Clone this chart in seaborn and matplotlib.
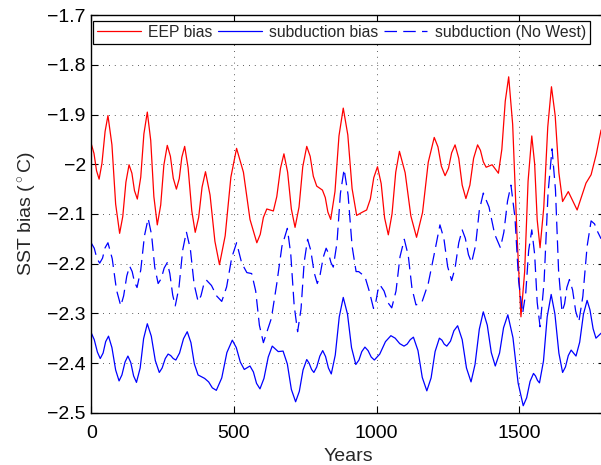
import matplotlib
matplotlib.use("Agg")
import matplotlib.pyplot as plt
import pandas as pd
import seaborn as sns

# ---------------- data ----------------
years_eep = [0, 9, 18, 27, 37, 48, 58, 72, 85, 99,
             110, 121, 132, 142, 151, 161, 173, 184, 196, 208,
             219, 231, 243, 254, 266, 277, 287, 298, 308, 317,
             327, 339, 352, 364, 376, 388, 400, 416, 433, 449,
             469, 489, 509, 533, 556, 580, 592, 603, 615, 638,
             650, 663, 675, 688, 701, 714, 728, 741, 755, 767,
             778, 790, 810, 820, 829, 839, 854, 868, 883, 899,
             914, 930, 948, 965, 978, 990, 1003, 1016, 1028, 1041,
             1054, 1067, 1080, 1100, 1120, 1140, 1161, 1181, 1202, 1215,
             1227, 1240, 1252, 1263, 1275, 1288, 1300, 1313, 1327, 1340,
             1354, 1364, 1374, 1384, 1405, 1427, 1439, 1451, 1463, 1477,
             1492, 1506, 1519, 1531, 1544, 1554, 1563, 1573, 1586, 1600,
             1613, 1626, 1639, 1652, 1672, 1703, 1734, 1752, 1770, 1787]
eep_bias = [-1.960, -1.978, -2.013, -2.030, -1.998, -1.934, -1.902, -1.961, -2.080, -2.139,
            -2.105, -2.036, -2.001, -2.018, -2.053, -2.070, -2.026, -1.939, -1.895, -1.952,
            -2.065, -2.122, -2.082, -2.002, -1.962, -1.984, -2.028, -2.050, -2.029, -1.986,
            -1.964, -2.007, -2.094, -2.137, -2.107, -2.046, -2.015, -2.062, -2.155, -2.202,
            -2.144, -2.026, -1.968, -2.016, -2.111, -2.158, -2.141, -2.107, -2.090, -2.094,
            -2.065, -2.008, -1.979, -2.016, -2.090, -2.127, -2.086, -2.005, -1.964, -1.984,
            -2.024, -2.044, -2.052, -2.067, -2.096, -2.111, -2.055, -1.943, -1.887, -1.941,
            -2.049, -2.103, -2.097, -2.092, -2.070, -2.027, -2.005, -2.039, -2.108, -2.142,
            -2.100, -2.016, -1.974, -2.017, -2.104, -2.147, -2.097, -1.996, -1.946, -1.965,
            -2.004, -2.023, -2.008, -1.977, -1.961, -1.988, -2.042, -2.069, -2.042, -1.988,
            -1.961, -1.972, -1.995, -2.006, -2.001, -2.018, -1.970, -1.873, -1.824, -1.920,
            -2.140, -2.307, -2.216, -2.034, -1.943, -1.999, -2.112, -2.168, -2.087, -1.925,
            -1.844, -1.902, -2.017, -2.075, -2.055, -2.092, -2.038, -2.021, -1.980, -1.931]

years_sub = [0, 10, 21, 31, 41, 50, 60, 72, 85, 97,
             107, 118, 128, 138, 148, 158, 171, 183, 196, 210,
             224, 238, 248, 259, 269, 278, 287, 296, 309, 323,
             336, 349, 361, 374, 397, 411, 424, 438, 457, 475,
             494, 508, 522, 536, 556, 568, 579, 591, 605, 620,
             634, 655, 672, 687, 701, 716, 729, 742, 755, 763,
             772, 780, 790, 801, 811, 821, 831, 841, 855, 869,
             883, 898, 912, 927, 938, 948, 959, 970, 981, 992,
             1011, 1031, 1050, 1065, 1081, 1096, 1107, 1118, 1129, 1145,
             1160, 1176, 1191, 1205, 1220, 1229, 1237, 1246, 1259, 1271,
             1284, 1300, 1315, 1331, 1345, 1360, 1374, 1388, 1402, 1416,
             1431, 1445, 1460, 1478, 1496, 1514, 1526, 1538, 1550, 1557,
             1564, 1571, 1585, 1598, 1612, 1625, 1639, 1652, 1662, 1672,
             1682, 1699, 1712, 1725, 1738, 1748, 1759, 1769, 1787]
subduction_bias = [-2.340, -2.353, -2.378, -2.391, -2.380, -2.357, -2.346, -2.369, -2.414, -2.436,
                   -2.424, -2.398, -2.386, -2.399, -2.426, -2.439, -2.410, -2.351, -2.321, -2.346,
                   -2.395, -2.419, -2.410, -2.391, -2.382, -2.385, -2.391, -2.394, -2.380, -2.351,
                   -2.337, -2.359, -2.402, -2.424, -2.431, -2.438, -2.450, -2.455, -2.430, -2.379,
                   -2.354, -2.369, -2.398, -2.413, -2.406, -2.418, -2.441, -2.452, -2.431, -2.388,
                   -2.366, -2.377, -2.376, -2.402, -2.453, -2.478, -2.457, -2.414, -2.393, -2.400,
                   -2.413, -2.419, -2.408, -2.386, -2.375, -2.387, -2.410, -2.422, -2.384, -2.307,
                   -2.268, -2.302, -2.369, -2.403, -2.394, -2.377, -2.368, -2.375, -2.388, -2.394,
                   -2.382, -2.357, -2.345, -2.350, -2.361, -2.366, -2.362, -2.353, -2.348, -2.375,
                   -2.429, -2.456, -2.430, -2.377, -2.350, -2.354, -2.362, -2.366, -2.356, -2.335,
                   -2.325, -2.353, -2.410, -2.438, -2.403, -2.332, -2.297, -2.324, -2.379, -2.406,
                   -2.380, -2.329, -2.303, -2.349, -2.440, -2.486, -2.470, -2.437, -2.421, -2.426,
                   -2.435, -2.440, -2.396, -2.307, -2.262, -2.301, -2.380, -2.419, -2.408, -2.385,
                   -2.374, -2.386, -2.358, -2.302, -2.274, -2.293, -2.331, -2.350, -2.340]

years_nowest = [0, 10, 19, 29, 39, 48, 58, 73, 88, 103,
                113, 124, 134, 143, 151, 160, 173, 186, 199, 211,
                222, 234, 245, 255, 266, 275, 285, 294, 307, 320,
                333, 347, 360, 374, 384, 393, 403, 421, 439, 457,
                474, 492, 509, 527, 545, 562, 576, 589, 603, 631,
                650, 668, 687, 699, 711, 723, 735, 746, 758, 769,
                781, 792, 802, 813, 823, 831, 840, 848, 861, 873,
                886, 900, 914, 928, 937, 959, 974, 989, 997, 1004,
                1012, 1026, 1039, 1053, 1068, 1082, 1097, 1111, 1124, 1138,
                1158, 1181, 1205, 1222, 1236, 1249, 1263, 1275, 1288, 1300,
                1311, 1322, 1333, 1347, 1360, 1374, 1394, 1414, 1434, 1446,
                1459, 1471, 1485, 1498, 1512, 1523, 1533, 1544, 1554, 1563,
                1573, 1587, 1601, 1615, 1627, 1638, 1650, 1659, 1667, 1676,
                1687, 1698, 1709, 1723, 1738, 1752, 1764, 1775, 1787]
subduction_nowest = [-2.159, -2.169, -2.189, -2.199, -2.189, -2.168, -2.158, -2.190, -2.253, -2.285,
                     -2.265, -2.225, -2.205, -2.216, -2.237, -2.248, -2.213, -2.144, -2.109, -2.142,
                     -2.207, -2.240, -2.230, -2.209, -2.198, -2.220, -2.263, -2.285, -2.248, -2.173,
                     -2.136, -2.171, -2.241, -2.276, -2.265, -2.244, -2.233, -2.244, -2.265, -2.276,
                     -2.247, -2.188, -2.158, -2.199, -2.218, -2.220, -2.255, -2.324, -2.359, -2.310,
                     -2.240, -2.165, -2.129, -2.181, -2.285, -2.337, -2.291, -2.197, -2.151, -2.173,
                     -2.218, -2.240, -2.222, -2.187, -2.169, -2.179, -2.198, -2.207, -2.158, -2.059,
                     -2.010, -2.062, -2.165, -2.216, -2.216, -2.226, -2.255, -2.290, -2.278, -2.255,
                     -2.243, -2.255, -2.278, -2.289, -2.255, -2.186, -2.151, -2.184, -2.250, -2.283,
                     -2.279, -2.240, -2.172, -2.122, -2.150, -2.206, -2.234, -2.209, -2.158, -2.132,
                     -2.149, -2.182, -2.198, -2.163, -2.093, -2.058, -2.086, -2.141, -2.168, -2.137,
                     -2.074, -2.042, -2.107, -2.236, -2.300, -2.258, -2.174, -2.132, -2.181, -2.278,
                     -2.327, -2.238, -2.058, -1.969, -2.051, -2.215, -2.297, -2.281, -2.248, -2.232,
                     -2.253, -2.296, -2.317, -2.266, -2.165, -2.114, -2.120, -2.136, -2.150]

series_labels = ["EEP bias", "subduction bias", "subduction (No West)"]
x_ticks = [0, 500, 1000, 1500]
x_tick_labels = ["0", "500", "1000", "1500"]
y_ticks = [-2.5, -2.4, -2.3, -2.2, -2.1, -2.0, -1.9, -1.8, -1.7]
y_tick_labels = ["\u22122.5", "\u22122.4", "\u22122.3", "\u22122.2", "\u22122.1",
                 "\u22122", "\u22121.9", "\u22121.8", "\u22121.7"]

# ---------------- style ----------------
sns.set_style("ticks")
plt.rcParams["font.family"] = ["Liberation Sans", "DejaVu Sans"]
plt.rcParams["mathtext.fontset"] = "custom"
plt.rcParams["mathtext.rm"] = "Liberation Sans"
plt.rcParams["mathtext.it"] = "Liberation Sans:italic"

W, H = 601, 465
fig = plt.figure(figsize=(W / 100, H / 100), dpi=100)
ax_left, ax_right, ax_top, ax_bottom = 91.4, 604.8, 15.2, 412.7
ax = fig.add_axes([ax_left / W, 1 - ax_bottom / H,
                   (ax_right - ax_left) / W, (ax_bottom - ax_top) / H])

df_eep = pd.DataFrame({"year": years_eep, "bias": eep_bias})
df_sub = pd.DataFrame({"year": years_sub, "bias": subduction_bias})
df_nw = pd.DataFrame({"year": years_nowest, "bias": subduction_nowest})

sns.lineplot(data=df_eep, x="year", y="bias", color="#ff0000", linewidth=0.9,
             estimator=None, sort=False, ax=ax, label=series_labels[0])
sns.lineplot(data=df_sub, x="year", y="bias", color="#0000ff", linewidth=0.9,
             estimator=None, sort=False, ax=ax, label=series_labels[1])
sns.lineplot(data=df_nw, x="year", y="bias", color="#0000ff", linewidth=0.9,
             estimator=None, sort=False, ax=ax, label=series_labels[2])
ax.lines[2].set_dashes((10, 5))

ax.set_xlim(0, 1800)
ax.set_ylim(-2.5, -1.7)
ax.set_xticks(x_ticks, labels=x_tick_labels)
ax.set_yticks(y_ticks, labels=y_tick_labels)
ax.tick_params(axis="both", direction="in", length=5, width=0.8, labelsize=14,
               top=True, right=True, colors="black")
ax.tick_params(axis="x", pad=9)
ax.tick_params(axis="y", pad=4)

ax.grid(True, color="0.15", linestyle=(0, (1, 6)), linewidth=0.6)
for sp in ax.spines.values():
    sp.set_visible(True)
    sp.set_color("black")
    sp.set_linewidth(1.0)

ax.set_xlabel("Years", fontsize=14, labelpad=4)
ax.set_ylabel(r"SST bias ($^\circ$C)", fontsize=14, labelpad=6)

handles, labels = ax.get_legend_handles_labels()
leg = ax.legend(handles, labels, ncol=3, loc="upper left",
                bbox_to_anchor=(93 / W, 1 - 21 / H),
                bbox_transform=fig.transFigure,
                fontsize=11.3, frameon=True, fancybox=False, framealpha=1,
                edgecolor="black", borderpad=0.25, handlelength=2.8,
                handletextpad=0.45, columnspacing=0.35, borderaxespad=0)
leg.get_frame().set_linewidth(0.9)

fig.savefig("out.png", dpi=100)
